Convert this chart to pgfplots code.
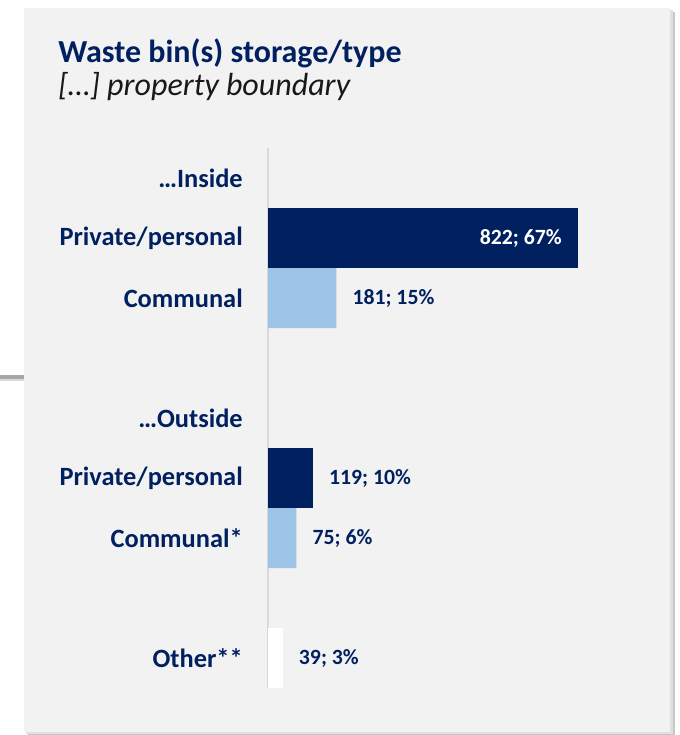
\documentclass[border=0pt]{standalone}
\usepackage{fontspec}
\setmainfont{Carlito}
\usepackage{pgfplots}
\pgfplotsset{compat=1.18}
\definecolor{navy}{HTML}{002060}
\definecolor{lightblue}{HTML}{9DC3E6}
\definecolor{panel}{HTML}{F2F2F2}
\definecolor{axisgray}{HTML}{D9D9D9}
% a semicolon that survives pgfplots' coordinate serialisation
\newcommand{\semi}{\char59\relax}

\begin{document}
\begin{tikzpicture}[x=0.75pt,y=0.75pt]
% canvas 680 x 735 px, y measured from the bottom
\useasboundingbox[fill=white] (0,0) rectangle (680,735);
\fill[black!22] (28,0) rectangle (675,723);
\fill[black!12] (26,1) rectangle (673,725);
\fill[panel] (24,3) rectangle (670,727);
\draw[black!35, line width=3pt] (0,358) -- (24,358);
\draw[black!15, line width=2pt] (0,355) -- (24,355);

\node[anchor=base west, inner sep=0pt, text=navy,
      font=\fontsize{24pt}{28pt}\selectfont\bfseries] at (58,672) {Waste bin(s) storage/type};
\node[anchor=base west, inner sep=0pt, text=black!90,
      font=\fontsize{24pt}{28pt}\selectfont\itshape] at (58,639) {[…] property boundary};

\begin{axis}[
  at={(201pt,35.25pt)}, anchor=south west,
  scale only axis, width=300pt, height=405pt,
  xbar, bar width=1, bar shift=0pt,
  xmin=0, xmax=1060.6,
  ymin=-0.5, ymax=8.5, y dir=reverse,
  axis x line=none,
  axis y line*=left,
  y axis line style={draw=axisgray, line width=1.5pt, -},
  ytick={0,1,2,4,5,6,8},
  yticklabels={…Inside, Private/personal, Communal, …Outside, Private/personal, Communal*, Other**},
  major tick length=0pt,
  yticklabel style={anchor=east, inner sep=0pt, xshift=-18.75pt, text=navy,
                    font=\fontsize{19.8pt}{24pt}\selectfont\bfseries},
  clip=false,
  nodes near coords,
  point meta=explicit symbolic,
  every node near coord/.append style={anchor=west, inner sep=0pt, xshift=12pt,
                    text=navy, font=\fontsize{16.3pt}{20pt}\selectfont\bfseries},
]
\addplot[fill=navy, draw=none,
  every node near coord/.append style={anchor=east, xshift=-24pt, text=white}]
  coordinates {(822,1) [822\semi{} 67\%]};
\addplot[fill=navy, draw=none]
  coordinates {(119,5) [119\semi{} 10\%]};
\addplot[fill=lightblue, draw=none]
  coordinates {(181,2) [181\semi{} 15\%] (75,6) [75\semi{} 6\%]};
\addplot[fill=white, draw=none]
  coordinates {(39,8) [39\semi{} 3\%]};
\end{axis}
\end{tikzpicture}
\end{document}
